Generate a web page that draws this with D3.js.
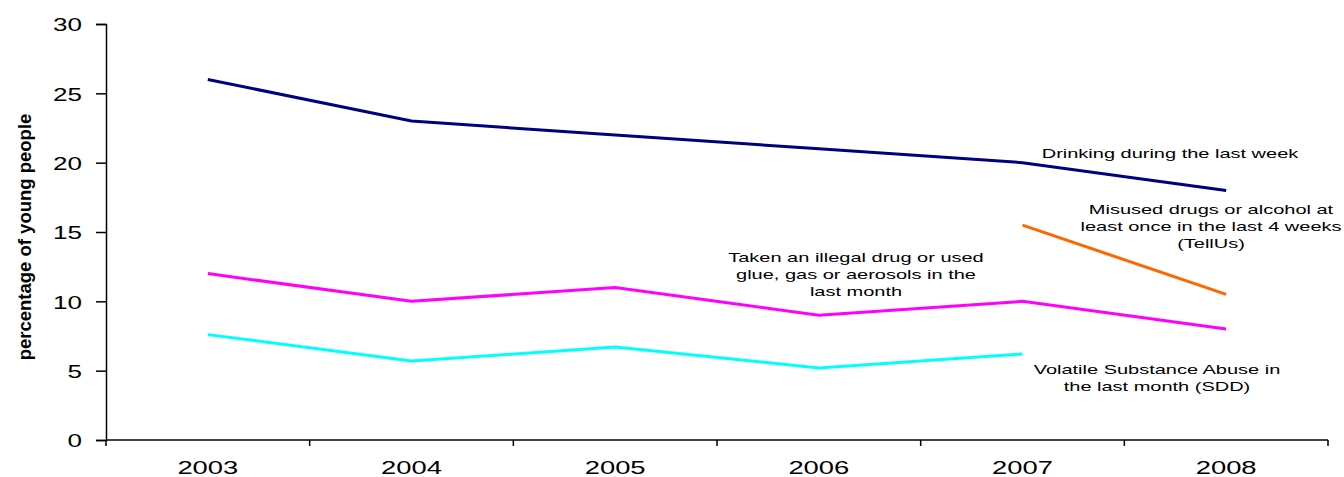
<!DOCTYPE html>
<html>
<head>
<meta charset="utf-8">
<script src="https://cdn.jsdelivr.net/npm/d3@7"></script>
<style>
  body { margin: 0; background: #fff; }
  text { font-family: "Liberation Sans", Arial, sans-serif; fill: #000; }
</style>
</head>
<body>
<svg id="chart" width="1344" height="477"></svg>
<script>
const years = ['2003', '2004', '2005', '2006', '2007', '2008'];
const drinking = [26, 23, 22, 21, 20, 18];
const illegalDrug = [12, 10, 11, 9, 10, 8];
const volatile = [7.6, 5.7, 6.7, 5.2, 6.2, null];
const tellUs = [null, null, null, null, 15.5, 10.5];
const yTicks = [0, 5, 10, 15, 20, 25, 30];

const series = [
    { name: 'drinking', values: drinking, color: '#000080' },
    { name: 'illegal', values: illegalDrug, color: '#ff00ff' },
    { name: 'volatile', values: volatile, color: '#00ffff' },
    { name: 'tellus', values: tellUs, color: '#ff6600' }
];

// annotation text, lines split by hand like the original
const notes = [
    { lines: ['Drinking during the last week'], x: 1170, y: 158 },
    { lines: ['Misused drugs or alcohol at', 'least once in the last 4 weeks', '(TellUs)'], x: 1211, y: 214 },
    { lines: ['Taken an illegal drug or used', 'glue, gas or aerosols in the', 'last month'], x: 856, y: 262 },
    { lines: ['Volatile Substance Abuse in', 'the last month (SDD)'], x: 1157, y: 374 }
];

const svg = d3.select('#chart');
const margin = { left: 106, right: 16, top: 24, bottom: 37 };
const W = 1344, H = 477;

// the original text looks stretched sideways, so widen glyphs a bit
function stretch(sel, k) {
    sel.each(function() {
        const w = this.getComputedTextLength();
        d3.select(this)
            .attr('textLength', w * k)
            .attr('lengthAdjust', 'spacingAndGlyphs');
    });
}

const x = d3.scaleBand()
    .domain(years)
    .range([margin.left, W - margin.right]);
const y = d3.scaleLinear()
    .domain([0, 30])
    .range([H - margin.bottom, margin.top]);

// y axis
const yAxis = svg.append('g')
    .attr('transform', `translate(${margin.left},0)`)
    .call(d3.axisLeft(y).tickValues(yTicks).tickSize(10).tickPadding(14));
yAxis.select('.domain').attr('stroke', '#000').attr('stroke-width', 1.5);
yAxis.selectAll('.tick line').attr('stroke-width', 1.5);
yAxis.selectAll('.tick text')
    .style('font-size', '19px')
    .attr('dy', '0.36em')
    .call(stretch, 1.37);

// x axis: ticks at band boundaries, labels at band centres
const xAxis = svg.append('g')
    .attr('transform', `translate(0,${y(0)})`);
xAxis.append('line')
    .attr('x1', x.range()[0]).attr('x2', x.range()[1])
    .attr('stroke', '#000').attr('stroke-width', 1.5);
const bounds = years.map(d => x(d)).concat([x.range()[1]]);
xAxis.selectAll('.xtick')
    .data(bounds)
    .join('line')
    .attr('x1', d => d).attr('x2', d => d)
    .attr('y1', 0).attr('y2', 6)
    .attr('stroke', '#000').attr('stroke-width', 1.5);
xAxis.selectAll('.xlabel')
    .data(years)
    .join('text')
    .attr('x', d => x(d) + x.bandwidth() / 2)
    .attr('y', 33.5)
    .attr('text-anchor', 'middle')
    .style('font-size', '19px')
    .text(d => d)
    .call(stretch, 1.44);

// y axis title
svg.append('text')
    .attr('transform', 'translate(31,237) rotate(-90)')
    .attr('text-anchor', 'middle')
    .style('font-family', '"Liberation Sans Narrow", "Arial Narrow", "Liberation Sans", sans-serif')
    .style('font-weight', 'bold')
    .style('font-size', '18.5px')
    .text('percentage of young people');

// lines
const line = d3.line()
    .defined(d => d.v != null)
    .x(d => x(d.year) + x.bandwidth() / 2)
    .y(d => y(d.v));

svg.append('g').selectAll('path')
    .data(series)
    .join('path')
    .attr('fill', 'none')
    .attr('stroke', d => d.color)
    .attr('stroke-width', 3)
    .attr('d', d => line(d.values.map((v, i) => ({ year: years[i], v: v }))));

// annotations
const ng = svg.append('g');
notes.forEach(n => {
    n.lines.forEach((s, i) => {
        ng.append('text')
            .attr('x', n.x)
            .attr('y', n.y + i * 17)
            .attr('text-anchor', 'middle')
            .style('font-size', '13.5px')
            .text(s)
            .call(stretch, 1.48);
    });
});
</script>
</body>
</html>
